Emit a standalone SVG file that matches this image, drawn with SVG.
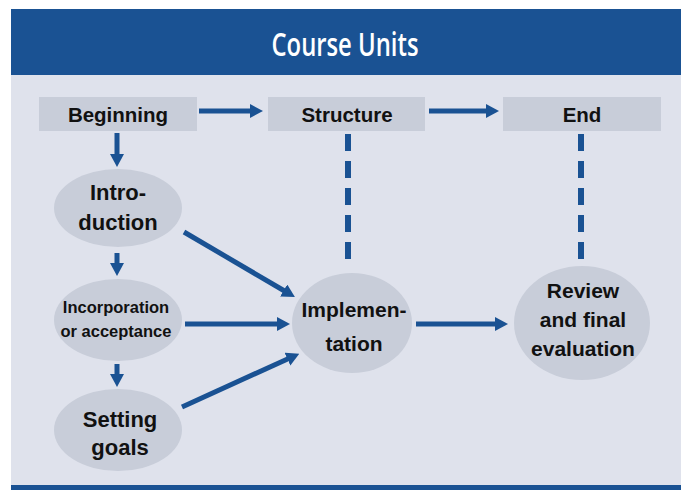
<svg xmlns="http://www.w3.org/2000/svg" width="681" height="490" viewBox="0 0 681 490">
<defs>
<style>
.box{fill:#c8cdd9}
.t{font-family:"Liberation Sans",Arial,sans-serif;font-weight:bold;fill:#111;text-anchor:middle}
.ln{stroke:#1a5293;stroke-width:5;fill:none}
.dash{stroke:#1a5293;stroke-width:6;fill:none;stroke-dasharray:17 10}
</style>
<marker id="ah" markerUnits="userSpaceOnUse" markerWidth="13" markerHeight="15" refX="5" refY="7" orient="auto">
<path d="M0,0 L13,7 L0,14 z" fill="#1a5293"/>
</marker>
</defs>
<rect x="0" y="0" width="681" height="490" fill="#ffffff"/>
<rect x="11" y="75" width="670" height="410" fill="#dfe2ec"/>
<rect x="11" y="9" width="670" height="66" fill="#1a5293"/>
<rect x="11" y="485" width="670" height="5" fill="#1a5293"/>
<text x="345" y="56" font-family="'Open Sans','Liberation Sans',Arial,sans-serif" font-weight="600" font-size="33" fill="#ffffff" text-anchor="middle" textLength="147" lengthAdjust="spacingAndGlyphs">Course Units</text>

<g id="connectors">
<line class="ln" x1="199" y1="111" x2="255" y2="111" marker-end="url(#ah)"/>
<line class="ln" x1="429" y1="111" x2="491" y2="111" marker-end="url(#ah)"/>
<line class="ln" x1="117" y1="133" x2="117" y2="159" marker-end="url(#ah)"/>
<line class="ln" x1="117" y1="253" x2="117" y2="268" marker-end="url(#ah)"/>
<line class="ln" x1="117" y1="364" x2="117" y2="379" marker-end="url(#ah)"/>
<line class="ln" x1="184" y1="232" x2="288" y2="293" marker-end="url(#ah)"/>
<line class="ln" x1="185" y1="324" x2="282" y2="324" marker-end="url(#ah)"/>
<line class="ln" x1="182" y1="407" x2="292" y2="357" marker-end="url(#ah)"/>
<line class="ln" x1="416" y1="324" x2="500" y2="324" marker-end="url(#ah)"/>
<line class="dash" x1="348" y1="134" x2="348" y2="264"/>
<line class="dash" x1="581" y1="134" x2="581" y2="259"/>
</g>

<g id="beginning"><rect class="box" x="39" y="97" width="158" height="34"/><text class="t" x="118" y="122" font-size="20.5">Beginning</text></g>
<g id="structure"><rect class="box" x="268" y="97" width="157" height="34"/><text class="t" x="347" y="122" font-size="20.5">Structure</text></g>
<g id="end"><rect class="box" x="503" y="97" width="158" height="34"/><text class="t" x="582" y="122" font-size="20.5">End</text></g>

<g id="introduction"><ellipse class="box" cx="118" cy="208" rx="64" ry="39"/><text class="t" font-size="22"><tspan x="118" y="200">Intro-</tspan><tspan x="118" y="230">duction</tspan></text></g>
<g id="incorporation"><ellipse class="box" cx="118" cy="320" rx="64" ry="41"/><text class="t" font-size="16.5"><tspan x="116" y="313">Incorporation</tspan><tspan x="116" y="337">or acceptance</tspan></text></g>
<g id="setting-goals"><ellipse class="box" cx="118" cy="430" rx="64" ry="41"/><text class="t" font-size="22"><tspan x="120" y="427">Setting</tspan><tspan x="120" y="455">goals</tspan></text></g>
<g id="implementation"><ellipse class="box" cx="352" cy="323" rx="60" ry="50"/><text class="t" font-size="21"><tspan x="354" y="317">Implemen-</tspan><tspan x="354" y="351">tation</tspan></text></g>
<g id="review"><ellipse class="box" cx="582" cy="323" rx="68" ry="57"/><text class="t" font-size="21"><tspan x="583" y="298">Review</tspan><tspan x="583" y="327">and final</tspan><tspan x="583" y="356">evaluation</tspan></text></g>
</svg>
